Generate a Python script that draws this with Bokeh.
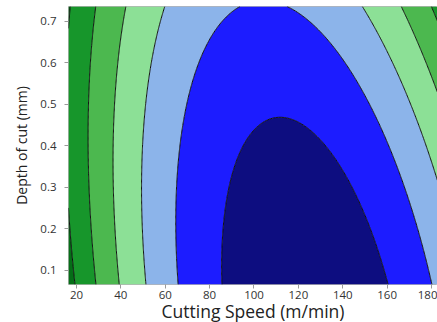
import numpy as np
from bokeh.plotting import figure
from bokeh.models import Range1d, FixedTicker
from bokeh.embed import file_html
from bokeh.resources import INLINE

# ---- data -----------------------------------------------------------------
speed_limits = [16.4, 182.7]          # Cutting Speed (m/min) shown range
depth_limits = [0.066, 0.736]         # Depth of cut (mm) shown range

# quadratic response surface: z = a*(speed - c(depth))^2 + m(depth)
surf_a = 5.35e-4                      # curvature along speed
centre_speed_at_min_depth = 123.0     # valley centre at the lowest depth
centre_shift_per_mm = -27.9           # valley centre drift with depth
floor_coefs = [0.25, 0.863, 2.476]    # m(depth): const, linear, quadratic in (depth - min)

levels = [0, 1, 2, 3, 4, 5, 6, 7]
fill_colors = ["#0d0d80", "#1c1cff", "#8cb4ea", "#8ce096",
               "#4cb84f", "#17962b", "#056e17"]
x_ticks = [20, 40, 60, 80, 100, 120, 140, 160, 180]
y_ticks = [0.1, 0.2, 0.3, 0.4, 0.5, 0.6, 0.7]
x_title = "Cutting Speed (m/min)"
y_title = "Depth of cut (mm)"

# ---- surface grid ----------------------------------------------------------
xs = np.linspace(speed_limits[0], speed_limits[1], 240)
ys = np.linspace(depth_limits[0], depth_limits[1], 240)
X, Y = np.meshgrid(xs, ys)
S = Y - depth_limits[0]
centre = centre_speed_at_min_depth + centre_shift_per_mm * S
floor = floor_coefs[0] + floor_coefs[1] * S + floor_coefs[2] * S ** 2
Z = surf_a * (X - centre) ** 2 + floor

# ---- figure ----------------------------------------------------------------
p = figure(width=437, height=322, output_backend="svg", toolbar_location=None,
           x_range=Range1d(*speed_limits), y_range=Range1d(*depth_limits),
           frame_width=369, frame_height=278,
           min_border_left=68, min_border_right=0, min_border_top=6, min_border_bottom=0)

p.contour(xs, ys, Z, levels, fill_color=fill_colors, line_color="#111111",
          line_width=1.0)

p.xgrid.visible = False
p.ygrid.visible = False
p.outline_line_color = "#b4b4b4"
p.outline_line_width = 1
p.background_fill_color = "white"
p.border_fill_color = "white"

font = "Open Sans"
for ax, ticks in ((p.xaxis, x_ticks), (p.yaxis, y_ticks)):
    ax.ticker = FixedTicker(ticks=ticks)
    ax.axis_line_color = None
    ax.major_tick_line_color = "#9a9a9a"
    ax.major_tick_out = 4
    ax.major_tick_in = 0
    ax.minor_tick_line_color = None
    ax.major_label_text_font = font
    ax.major_label_text_font_size = "11.5px"
    ax.major_label_text_color = "#333333"
    ax.axis_label_text_font = font
    ax.axis_label_text_font_style = "normal"
    ax.axis_label_text_color = "#222222"

p.xaxis.axis_label = x_title
p.yaxis.axis_label = y_title
p.xaxis.axis_label_text_font_size = "17.5px"
p.yaxis.axis_label_text_font_size = "14px"
p.xaxis.major_label_standoff = 2
p.xaxis.axis_label_standoff = -3
p.yaxis.major_label_standoff = 8
p.yaxis.axis_label_standoff = 6

open("out.html", "w").write(file_html(p, INLINE))
